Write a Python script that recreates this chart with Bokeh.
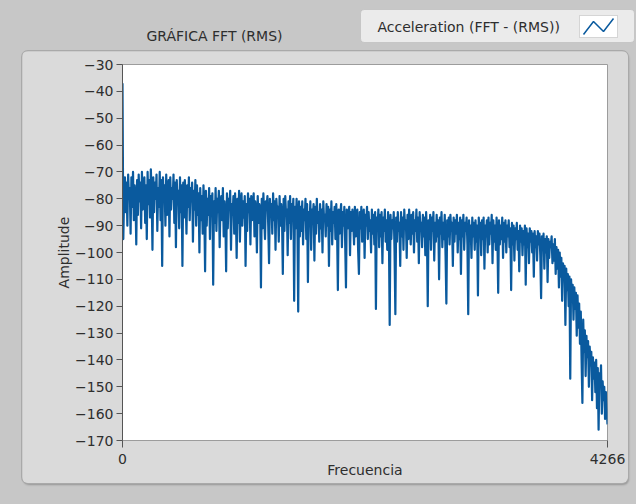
import numpy as np
from bokeh.plotting import figure
from bokeh.models import Range1d, FixedTicker, BoxAnnotation
from bokeh.layouts import column
from bokeh.core.properties import value
from bokeh.embed import file_html
from bokeh.resources import INLINE

# ---- spectrum data (dB, RMS), evenly spaced bins from 0 to F_MAX ----
F_MAX = 4266

band_low = [
    -37,
    -95, -78, -72, -85, -74, -90, -71, -80, -76, -93,
    -72, -83, -70, -88, -75, -79, -97, -73, -86, -71,
    -81, -74, -91, -70, -84, -77, -72, -89, -75, -95,
    -70, -82, -73, -87, -69, -78, -99, -72, -85, -74,
    -80, -71, -92, -76, -83, -70, -88, -73, -105, -72,
    -81, -75, -90, -71, -86, -78, -73, -94, -72, -84,
    -76, -80, -71, -89, -74, -98, -73, -82, -77, -91,
    -72, -85, -75, -105, -74, -87, -73, -80, -93, -75,
    -83, -72, -88, -76, -81, -74, -96, -77, -84, -73,
    -90, -75, -86, -78, -100,
]
band_mid1 = [
    -76, -88, -79, -93, -75, -84, -107, -77, -90, -80,
    -86, -76, -95, -79, -83, -78, -112, -81, -89, -76,
    -92, -80, -85, -77, -98, -82, -79, -88, -76, -94,
    -81, -87, -107, -78, -91, -80, -84, -77, -99, -82,
    -86, -79, -93, -78, -85, -102, -80, -89, -77, -96,
    -83, -78, -90, -81, -87, -79, -105, -82, -92, -78,
    -85, -80, -97, -79, -88, -83, -78, -94, -81, -86,
    -100, -79, -89, -82, -84, -113, -80, -91, -78, -87,
    -95, -81, -83, -79, -90, -104, -80, -86, -82, -93,
    -78, -88, -81, -99, -80, -85, -83, -96, -79, -90,
    -82, -87, -108, -80, -92, -79, -86, -84, -101, -81,
    -89, -79, -95, -82, -86, -80, -118, -83, -91, -80,
    -88, -122, -81, -94,
]
band_mid2 = [
    -83, -92, -81, -97, -84, -88, -80, -95, -82, -111,
    -85, -90, -81, -99, -84, -87, -82, -103, -83, -93,
    -80, -89, -85, -96, -82, -91, -84, -100, -81, -88,
    -86, -94, -82, -90, -83, -105, -84, -92, -81, -97,
    -85, -89, -83, -95, -82, -91, -114, -84, -93, -86,
    -82, -98, -85, -90, -83, -96, -113, -84, -91, -87,
    -83, -101, -85, -92, -84, -89, -97, -83, -94, -86,
    -84, -99, -108, -85, -91, -83, -96, -87, -84, -102,
    -86, -90, -83, -95, -85, -92, -88, -100, -84, -93,
    -86, -97, -85, -121, -87, -91, -84, -98, -86, -94,
    -85, -104, -87, -92, -84, -96, -88, -99, -85, -93,
    -127, -86, -95, -88, -91, -85, -100, -123, -87, -96,
    -85, -92, -89, -105,
]
band_high = [
    -85, -94, -87, -99, -84, -91, -88, -102, -86, -95,
    -84, -90, -97, -86, -93, -85, -100, -88, -92, -84,
    -96, -87, -104, -85, -91, -89, -98, -86, -94, -87,
    -101, -85, -93, -120, -88, -95, -86, -99, -87, -92,
    -85, -103, -89, -96, -86, -94, -88, -110, -87, -93,
    -85, -98, -89, -95, -86, -101, -119, -88, -94, -87,
    -97, -86, -92, -89, -105, -87, -96, -88, -93, -86,
    -100, -89, -95, -87, -108, -88, -94, -86, -99, -89,
    -92, -87, -97, -123, -88, -95, -90, -102, -87, -94,
    -89, -99, -88, -96, -90, -116, -87, -93, -89, -101,
    -88, -95, -87, -106, -90, -94, -88, -100, -87, -97,
    -89, -93, -86, -104, -88, -96, -90, -99, -87, -94,
    -115, -88, -97, -90, -95, -87, -102, -89, -96, -88,
    -100, -90, -94, -88, -98, -91, -114, -89, -97, -90,
    -103, -91, -95, -89, -99, -92, -107, -90, -96, -91,
    -101, -92, -97, -90, -112, -91, -98, -93, -104, -91,
    -96, -92, -100, -93, -109, -92, -98, -94, -103, -92,
    -97, -93, -101, -117, -94, -99, -93, -106, -95, -100,
    -94, -111, -95, -102, -96, -98, -94, -104,
]
band_knee = [
    -97, -103, -95, -108, -98, -106, -99, -113, -100, -109,
    -102, -118, -104, -110, -105, -127, -106, -114, -108, -120,
    -109, -147, -110, -117, -112, -125, -113, -121, -115, -131, -116,
]
band_tail = [
    -128, -119, -134, -122, -140, -156, -125, -137, -129, -146,
    -131, -139, -133, -150, -135, -142, -137, -155, -139, -147,
    -141, -152, -140, -158, -143, -166, -145, -150, -142, -160,
    -148, -155, -150, -162, -152, -158, -164,
]

amplitude_db = band_low + band_mid1 + band_mid2 + band_high + band_knee + band_tail
n_bins = len(amplitude_db)
df = F_MAX / (n_bins - 1)
frequency = np.arange(n_bins) * df

y_ticks = [-170, -160, -150, -140, -130, -120, -110, -100, -90, -80, -70, -60, -50, -40, -30]
x_ticks = [0, F_MAX]

# ---- look ----
FONT = "DejaVu Sans"
OUTER = "#c7c7c7"
PANEL = "#dadada"
TEXT = "#2e2e2e"
LINE = "#0a5a9e"

HEAD_H = 51

# header strip: chart caption and plot legend
head = figure(width=636, height=HEAD_H, x_range=Range1d(0, 636), y_range=Range1d(0, HEAD_H),
              x_axis_type=None, y_axis_type=None, output_backend="svg", toolbar_location=None,
              min_border=0, background_fill_color=OUTER, border_fill_color=OUTER,
              outline_line_color=None, title=None, frame_align=False)
head.grid.visible = False

head.text(x=[214], y=[HEAD_H - 35], text=["GRÁFICA FFT (RMS)"], text_align="center",
          text_baseline="middle", text_font=value(FONT), text_font_size="14px", text_color=TEXT)

head.add_layout(BoxAnnotation(left=360, right=634, top=HEAD_H - 9, bottom=HEAD_H - 42,
                              fill_color="#ebebeb", fill_alpha=1, line_color="#9a9a9a",
                              line_width=1, border_radius=4, level="underlay"))
head.add_layout(BoxAnnotation(left=579, right=617, top=HEAD_H - 15, bottom=HEAD_H - 37,
                              fill_color="white", fill_alpha=1, line_color="#8a8a8a",
                              line_width=1, level="underlay"))
head.text(x=[377], y=[HEAD_H - 26], text=["Acceleration (FFT - (RMS))"], text_align="left",
          text_baseline="middle", text_font=value(FONT), text_font_size="14px", text_color=TEXT)
head.line(x=[583, 593, 603, 613], y=[HEAD_H - 34, HEAD_H - 21, HEAD_H - 31, HEAD_H - 18],
          line_color=LINE, line_width=1.5)

# main spectrum plot
p = figure(width=606, height=432, x_range=Range1d(0, F_MAX), y_range=Range1d(-170, -30),
           output_backend="svg", toolbar_location=None, title=None, frame_align=False,
           min_border_left=100, min_border_right=21, min_border_top=13, min_border_bottom=43,
           background_fill_color="white", border_fill_color=PANEL,
           outline_line_color="#9c9c9c", outline_line_width=1,
           margin=(0, 8, 21, 22),
           styles={"border-radius": "6px", "overflow": "hidden",
                   "box-shadow": "0 0 0 1px #a9a9a9, 1px 2px 2px rgba(0,0,0,0.25)"})
p.grid.visible = False

p.line(frequency, amplitude_db, line_color=LINE, line_width=2.2, line_join="round")

ya = p.yaxis[0]
ya.ticker = FixedTicker(ticks=y_ticks)
ya.major_tick_out = 6
ya.major_tick_in = 0
ya.minor_tick_line_color = None
ya.major_label_standoff = 3
ya.axis_line_color = "#555555"
ya.major_tick_line_color = "#555555"
ya.major_label_text_font = FONT
ya.major_label_text_font_size = "14px"
ya.major_label_text_color = TEXT
ya.axis_label = "Amplitude"
ya.axis_label_text_font = FONT
ya.axis_label_text_font_size = "14px"
ya.axis_label_text_font_style = "normal"
ya.axis_label_text_color = TEXT
ya.axis_label_standoff = 0

xa = p.xaxis[0]
xa.ticker = FixedTicker(ticks=x_ticks)
xa.major_tick_out = 7
xa.major_tick_in = 0
xa.minor_tick_line_color = None
xa.major_label_standoff = 6
xa.axis_line_color = None
xa.major_tick_line_color = "#555555"
xa.major_label_text_font = FONT
xa.major_label_text_font_size = "14px"
xa.major_label_text_color = TEXT
xa.axis_label = "Frecuencia"
xa.axis_label_text_font = FONT
xa.axis_label_text_font_size = "14px"
xa.axis_label_text_font_style = "normal"
xa.axis_label_text_color = TEXT
xa.axis_label_standoff = -5

root = column(head, p, styles={"background-color": OUTER})

with open("out.html", "w") as f:
    f.write(file_html(root, INLINE))
